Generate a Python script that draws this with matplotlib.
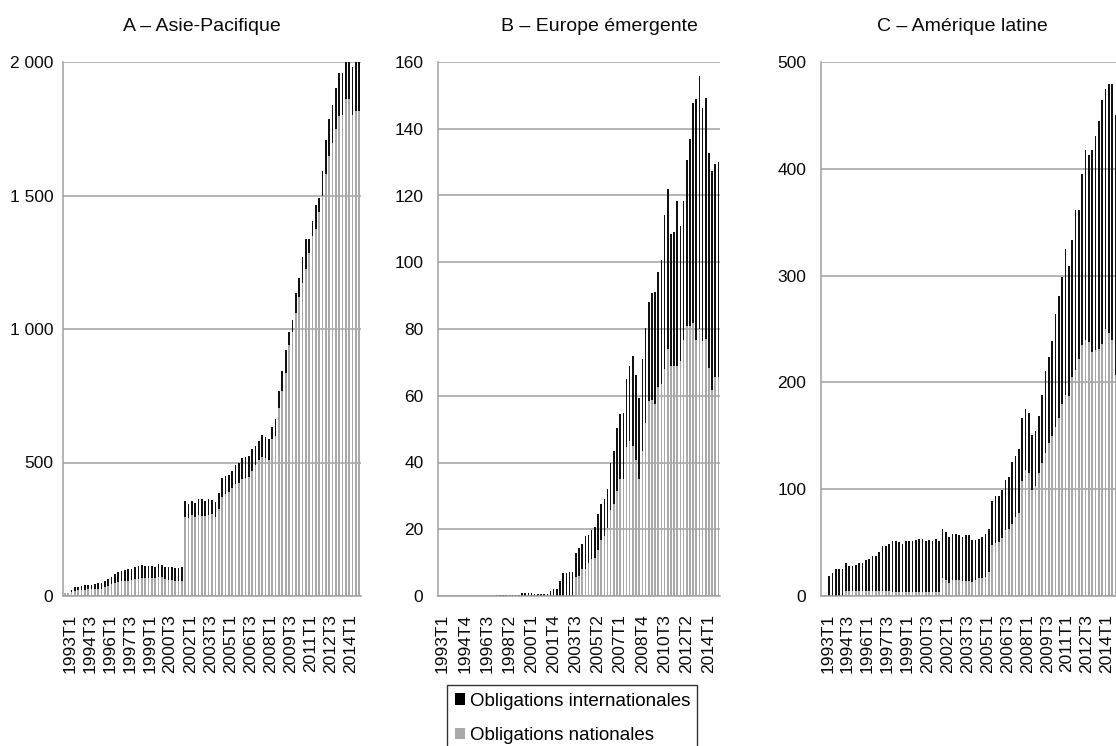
import matplotlib
matplotlib.use('Agg')
import matplotlib.pyplot as plt
from matplotlib.patches import Patch
from matplotlib.transforms import ScaledTranslation
import numpy as np

# ================= Données (lecture du graphique) =================
# trimestres 1993T1 ... 2015T1
quarters = [f"{1993 + i // 4}T{i % 4 + 1}" for i in range(89)]

# A – Asie-Pacifique : total (haut de la barre) et obligations nationales
asia_total = [12, 12, 22, 32, 33, 36, 40, 42, 42, 46, 47, 47, 55, 65, 72, 82, 90, 95, 97, 100,
              102, 107, 112, 115, 112, 112, 112, 110, 120, 117, 110, 107, 107, 105, 105, 107,
              356, 344, 356, 347, 362, 362, 356, 362, 360, 353, 385, 441, 449, 454, 470, 489,
              498, 515, 522, 525, 550, 561, 580, 602, 597, 589, 632, 664, 768, 844, 921, 989,
              1034, 1136, 1192, 1271, 1338, 1336, 1406, 1465, 1491, 1591, 1707, 1785, 1840,
              1903, 1957, 1960, 2010, 2010, 1981, 2010, 2010]
asia_nat = [10, 10, 14, 20, 21, 22, 24, 25, 26, 27, 28, 28, 32, 38, 44, 48, 52, 55, 56, 58,
            60, 62, 64, 66, 66, 66, 66, 66, 70, 70, 64, 60, 60, 58, 58, 58,
            297, 291, 304, 297, 304, 300, 300, 304, 308, 295, 327, 372, 382, 389, 405, 420,
            424, 437, 441, 446, 470, 489, 509, 522, 515, 509, 587, 600, 703, 768, 836, 940,
            990, 1060, 1120, 1173, 1223, 1286, 1350, 1373, 1440, 1497, 1579, 1648, 1695,
            1750, 1797, 1800, 1862, 1862, 1803, 1815, 1815]

# B – Europe émergente
europe_total = [0] * 18 + [0.3] * 8 + [0.8] * 4 + [0.5] * 4 + \
               [0.7, 1.4, 2.0, 2.0, 4.5, 6.8, 7.0, 7.1, 7.3,
                13.0, 14.3, 15.5, 18.0, 18.4, 19.8, 20.8, 24.7, 27.6, 29.1, 32.1, 39.9, 43.4,
                50.3, 54.6, 54.8, 65.0, 69.0, 71.8, 66.3, 59.3, 71.0, 80.3, 88.1, 90.9, 91.2,
                97.2, 100.6, 114.1, 122.0, 108.5, 109.0, 118.3, 110.8, 118.3, 130.5, 136.8,
                147.7, 149.0, 155.9, 146.2, 149.1, 132.6, 127.4, 129.4, 130.0]
europe_nat = [0] * 43 + \
             [5.7, 5.9, 8.2, 8.2, 9.9, 11.2, 11.4, 13.8, 16.7, 18.1, 20.4, 25.8, 27.7, 31.6,
              35.0, 35.1, 44.6, 46.5, 45.0, 40.8, 35.0, 43.3, 51.8, 58.3, 58.8, 57.6, 62.6,
              63.5, 68.0, 74.0, 68.8, 68.8, 68.8, 70.3, 76.8, 80.8, 81.0, 81.8, 76.8, 80.0,
              76.5, 77.0, 68.3, 61.6, 65.6, 65.6]

# C – Amérique latine
latam_total = [0, 0, 18.8, 21.9, 25.1, 25.1, 25.4, 31.0, 28.5, 28.5, 29.2, 30.7, 31.3, 33.9,
               35.1, 37.0, 37.6, 41.4, 47.0, 47.0, 48.9, 51.4, 51.4, 50.8, 48.9, 51.4, 51.7,
               51.7, 52.7, 53.3, 53.3, 51.7, 52.7, 51.7, 53.3, 51.1, 62.6, 59.8, 55.7, 58.2,
               57.6, 57.3, 55.1, 57.3, 57.0, 52.6, 52.6, 53.2, 55.7, 57.9, 62.6, 88.9, 93.3,
               93.9, 98.9, 108.3, 111.4, 125.8, 130.8, 137.7, 166.8, 175.3, 170.9, 151.2,
               154.9, 168.4, 187.8, 210.6, 224.1, 238.8, 263.8, 281.0, 299.0, 325.0, 309.0,
               333.0, 361.0, 361.0, 395.0, 418.0, 413.0, 418.0, 431.0, 445.0, 464.0, 475.0,
               479.5, 479.5, 450.0]
latam_nat = [0] * 7 + [5] * 14 + [4] * 15 + \
            [16.6, 15, 12.5, 15, 15, 15, 14.4, 14.4, 14, 13.5, 15, 16.6, 16.6, 18.2, 22.8,
             47.9, 49.5, 50.4, 54.1, 62, 62.6, 67.6, 73.9, 77.6, 107.4, 118.3, 115.2, 98.9,
             102.7, 115.2, 124.6, 134, 143.3, 150.2, 158, 167, 180, 188, 187, 205, 212, 222,
             235, 240, 238, 228, 230, 231, 236, 250, 246, 240, 207]

panels = [
    ('A – Asie-Pacifique', asia_total, asia_nat, 2000, [0, 500, 1000, 1500, 2000],
     ['0', '500', '1 000', '1 500', '2 000'], 6),
    ('B – Europe émergente', europe_total, europe_nat, 160, [0, 20, 40, 60, 80, 100, 120, 140, 160],
     ['0', '20', '40', '60', '80', '100', '120', '140', '160'], 7),
    ('C – Amérique latine', latam_total, latam_nat, 500, [0, 100, 200, 300, 400, 500],
     ['0', '100', '200', '300', '400', '500'], 6),
]

# ================= Style =================
plt.rcParams['font.family'] = ['Liberation Sans', 'DejaVu Sans']
col_intl = '#111111'
col_nat = '#a9a9a9'
col_grid = '#a0a0a0'
col_text = '#0a0a0a'

W, H = 1116, 746
fig = plt.figure(figsize=(W / 100, H / 100), dpi=100)

# positions en pixels : (gauche, droite), haut = 62, bas = 596
boxes = [(63, 361), (438, 720), (821, 1117)]
title_x = [202, 599, 962]
ypads = [7, 10.5, 10.5]
xshift = [5, 3, 5]
top_px, bot_px = 62, 596

for (title, total, nat, ymax, yt, ytl, step), (l, r), tx, yp, xs in zip(panels, boxes, title_x, ypads, xshift):
    ax = fig.add_axes([l / W, (H - bot_px) / H, (r - l) / W, (bot_px - top_px) / H])
    x = np.arange(len(quarters))
    total = np.array(total, dtype=float)
    nat = np.array(nat, dtype=float)
    ax.bar(x, nat, width=0.5, color=col_nat, linewidth=0)
    ax.bar(x, total - nat, bottom=nat, width=0.5, color=col_intl, linewidth=0)

    ax.set_xlim(-0.5, len(quarters) - 0.5)
    ax.set_ylim(0, ymax)
    ax.set_yticks(yt)
    ax.set_yticklabels(ytl)
    ax.set_xticks(x[::step])
    ax.set_xticklabels(quarters[::step], rotation=90)
    ax.tick_params(axis='both', length=0, labelsize=12.5, colors=col_text)
    ax.tick_params(axis='y', pad=yp)
    ax.tick_params(axis='x', pad=13)
    # petit décalage horizontal des étiquettes (après tick_params, qui réinitialise les transforms)
    shift = ScaledTranslation(xs / 100, 0, fig.dpi_scale_trans)
    for lab in ax.get_xticklabels():
        lab.set_transform(lab.get_transform() + shift)

    ax.set_axisbelow(True)
    ax.yaxis.grid(True, color=col_grid, linewidth=1.1)
    for s in ['top', 'right']:
        ax.spines[s].set_visible(False)
    for s in ['left', 'bottom']:
        ax.spines[s].set_color(col_grid)
        ax.spines[s].set_linewidth(1.1)

    fig.text(tx / W, (H - 31) / H, title, ha='center', va='baseline', fontsize=14, color=col_text)

# ================= Légende =================
handles = [Patch(facecolor='#000000', edgecolor='none'), Patch(facecolor=col_nat, edgecolor='none')]
leg = fig.legend(handles, ['Obligations internationales', 'Obligations nationales'],
                 loc='upper left', bbox_to_anchor=(447 / W, (H - 685) / H),
                 fontsize=13.5, frameon=True, fancybox=False, edgecolor='#000000',
                 handlelength=0.55, handleheight=0.55, handletextpad=0.25,
                 labelspacing=0.95, borderpad=0.4, borderaxespad=0)
leg.get_frame().set_linewidth(1.0)

fig.savefig('out.png', dpi=100)
